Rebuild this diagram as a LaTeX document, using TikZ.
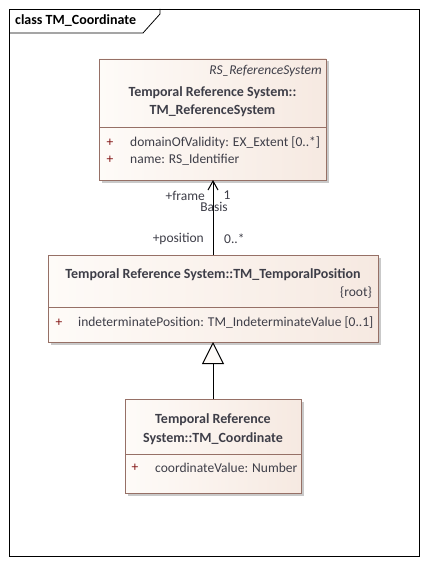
\documentclass[tikz,border=0pt]{standalone}
\usepackage{fontspec}
\setmainfont{Carlito}
\usetikzlibrary{shadows,arrows.meta}
\definecolor{boxborder}{RGB}{150,112,102}
\definecolor{boxleft}{RGB}{254,251,248}
\definecolor{boxright}{RGB}{246,233,225}
\definecolor{txt}{RGB}{62,62,72}
\definecolor{plus}{RGB}{130,20,20}
\tikzset{
  cls/.style={draw=boxborder, line width=0.8pt, left color=boxleft, right color=boxright,
    shading angle=90, rectangle, inner sep=0, outer sep=0, anchor=north west,
    drop shadow={shadow xshift=2.5pt, shadow yshift=-2.5pt, fill=black!35, opacity=0.6}},
  sep/.style={draw=boxborder, line width=0.8pt},
  ttl/.style={font=\bfseries\fontsize{14}{18.5}\selectfont, text=txt, inner sep=0, align=center},
  attr/.style={font=\fontsize{13.5}{16}\selectfont, text=txt, inner sep=0, anchor=west},
  pl/.style={font=\fontsize{13.5}{16}\selectfont, text=plus, inner sep=0},
  lbl/.style={font=\fontsize{13.5}{16}\selectfont, text=txt, inner sep=0},
  conn/.style={draw=black, line width=1pt}
}
\begin{document}
\begin{tikzpicture}[x=1pt,y=-1pt]
\useasboundingbox (0,0) rectangle (427,564);
\fill[white] (0,0) rectangle (427,564);
% frame
\draw[line width=0.8pt] (9,9) rectangle (419,556);
\coordinate (tabA) at (9,33);
\coordinate (tabB) at (143,33);
\coordinate (tabC) at (160,14);
\coordinate (tabD) at (160,9);
\draw[line width=0.8pt] (tabA) -- (tabB) -- (tabC) -- (tabD);
\node[lbl, font=\bfseries\fontsize{14}{16}\selectfont, text=black, anchor=west] (title) at (15,21) {class TM\_Coordinate};

% box 1
\node[cls, minimum width=227pt, minimum height=121pt] (rs) at (99,59) {};
\draw[sep] (99,127) -- (326,127);
\node[lbl, font=\itshape\fontsize{13.5}{16}\selectfont, anchor=east] (rsst) at (322,71) {RS\_ReferenceSystem};
\node[ttl] (rst) at (212.5,101.5) {Temporal Reference System::\\TM\_ReferenceSystem};
\node[pl] (rsp1) at (110,143) {+};
\node[attr] (rsa1) at (130,143) {domainOfValidity: EX\_Extent [0..*]};
\node[pl] (rsp2) at (110,160) {+};
\node[attr] (rsa2) at (130,160) {name: RS\_Identifier};

% box 2
\node[cls, minimum width=330pt, minimum height=87pt] (tp) at (48,255) {};
\draw[sep] (48,307) -- (378,307);
\node[ttl] (tpt) at (213,275) {Temporal Reference System::TM\_TemporalPosition};
\node[lbl, anchor=east] (tpst) at (372,293) {\{root\}};
\node[pl] (tpp1) at (59,323) {+};
\node[attr] (tpa1) at (78,323) {indeterminatePosition: TM\_IndeterminateValue [0..1]};

% box 3
\node[cls, minimum width=176pt, minimum height=94pt] (co) at (125,399) {};
\draw[sep] (125,454) -- (301,454);
\node[ttl] (cot) at (213,429) {Temporal Reference\\System::TM\_Coordinate};
\node[pl] (cop1) at (135,468) {+};
\node[attr] (coa1) at (155,468) {coordinateValue: Number};

% association
\coordinate (a1) at (213,255);
\coordinate (a2) at (213,180);
\draw[conn, -{Straight Barb[length=9pt,width=10pt,line width=1pt]}] (a1) -- (a2);
\node[lbl, anchor=east] (fr) at (205,196) {+frame};
\node[lbl] (one) at (227,195) {1};
\node[lbl] (bas) at (214,207) {Basis};
\node[lbl, anchor=east] (pos) at (204,239) {+position};
\node[lbl, anchor=west] (mult) at (224,239) {0..*};

% generalization
\coordinate (g1) at (213,399);
\coordinate (g2) at (213,342);
\draw[conn, -{Triangle[open, length=22pt, width=22pt, line width=1pt, fill=boxleft]}] (g1) -- (g2);
\end{tikzpicture}
\end{document}
